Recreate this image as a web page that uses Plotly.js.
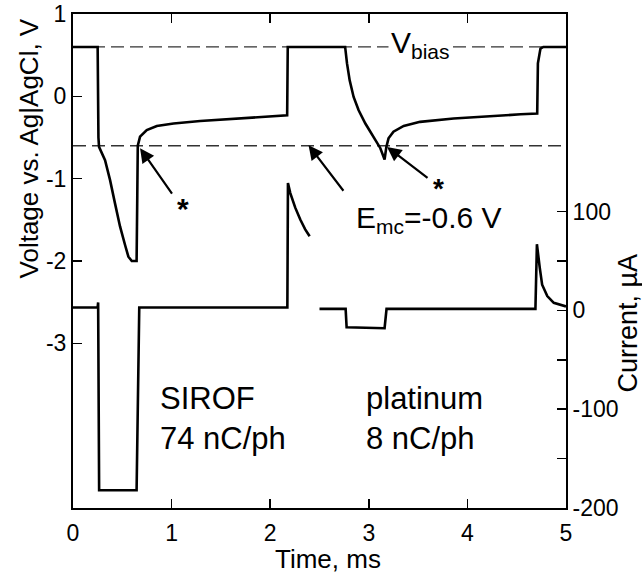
<!DOCTYPE html>
<html>
<head>
<meta charset="utf-8">
<script src="https://cdn.plot.ly/plotly-3.0.1.min.js"></script>
<style>html,body{margin:0;padding:0;background:#fff;}#chart{width:642px;height:574px;}</style>
</head>
<body>
<div id="chart"></div>
<script>
// Voltage trace (SIROF pulse, then platinum pulse), V vs Ag|AgCl
const timeV = [0, 0.25, 0.258, 0.264, 0.325, 0.376, 0.426, 0.477, 0.528, 0.562, 0.596, 0.645, 0.652, 0.657, 0.68, 0.748, 0.85, 1.02, 1.29, 1.63, 1.97, 2.172, 2.178, 2.76, 2.779, 2.806, 2.846, 2.897, 2.965, 3.05, 3.117, 3.16, 3.178, 3.20, 3.25, 3.354, 3.52, 3.86, 4.20, 4.54, 4.708, 4.715, 4.741, 4.77, 5];
const voltage = [0.6, 0.6, -0.5, -0.614, -0.776, -1.018, -1.30, -1.58, -1.806, -1.948, -2.0, -2.0, -1.2, -0.6, -0.49, -0.41, -0.36, -0.33, -0.30, -0.27, -0.24, -0.23, 0.6, 0.6, 0.4, 0.194, -0.008, -0.17, -0.33, -0.49, -0.63, -0.767, -0.614, -0.51, -0.43, -0.36, -0.31, -0.27, -0.24, -0.218, -0.21, 0.4, 0.58, 0.6, 0.6];
// Current trace, µA
const timeI = [0, 0.25, 0.255, 0.265, 0.645, 0.672, 2.174, 2.18, 2.203, 2.254, 2.305, 2.355, 2.40, 2.45, 2.50, 2.765, 2.775, 3.0, 3.16, 3.18, 4.69, 4.705, 4.72, 4.734, 4.758, 4.81, 4.876, 4.978, 5];
const current = [3, 3, 8, -182, -182, 3, 3, 129, 119, 104, 92, 82, 75, null, 1.5, 1.5, -17, -18, -18, 1.5, 1.5, 67, 52, 43, 26, 14.5, 7.7, 4.3, 4];
// Reference levels
const vBias = 0.6;
const eMc = -0.6;
// Tick labels
const xTicks = [0, 1, 2, 3, 4, 5];
const vTicks = [-3, -2, -1, 0, 1];
const vTickText = ['-3', '-2', '-1', '0', '1'];
const iTicks = [-200, -150, -100, -50, 0, 50, 100];
const iTickText = ['-200', '', '-100', '', '0', '', '100'];

const FONT = 'Liberation Sans, Arial, Helvetica, sans-serif';
const traces = [
  {x: timeV, y: voltage, type: 'scatter', mode: 'lines', line: {color: '#000', width: 2.6}, yaxis: 'y', hoverinfo: 'skip'},
  {x: timeI, y: current, type: 'scatter', mode: 'lines', line: {color: '#000', width: 2.6}, yaxis: 'y2', connectgaps: false, hoverinfo: 'skip'}
];
const dash = {color: '#333', width: 1.3, dash: '13px,6px'};
const layout = {
  width: 642, height: 574,
  margin: {l: 73, r: 76, t: 14, b: 66},
  paper_bgcolor: '#fff', plot_bgcolor: '#fff',
  showlegend: false,
  font: {family: FONT, color: '#000', size: 23},
  xaxis: {range: [0, 5], tickvals: xTicks, ticks: 'inside', ticklen: 9, tickwidth: 1.5, tickcolor: '#000',
          showline: true, linewidth: 2, linecolor: '#000', mirror: 'ticks', showgrid: false, zeroline: false,
          tickfont: {size: 23}, ticklabelstandoff: 3},
  yaxis: {range: [-5, 1], tickvals: vTicks, ticktext: vTickText, ticks: 'inside', ticklen: 9, tickwidth: 1.5, tickcolor: '#000',
          showline: true, linewidth: 2, linecolor: '#000', showgrid: false, zeroline: false, tickfont: {size: 23}},
  yaxis2: {range: [-200, 300], overlaying: 'y', side: 'right', tickvals: iTicks, ticktext: iTickText,
           ticks: 'inside', ticklen: 9, tickwidth: 1.5, tickcolor: '#000',
           showline: true, linewidth: 2, linecolor: '#000', showgrid: false, zeroline: false, tickfont: {size: 23}},
  shapes: [
    {type: 'line', xref: 'paper', x0: 0, x1: 1, yref: 'y', y0: vBias, y1: vBias, line: dash, layer: 'below'},
    {type: 'line', xref: 'paper', x0: 0, x1: 1, yref: 'y', y0: eMc, y1: eMc, line: dash, layer: 'below'}
  ],
  annotations: [
    {xref: 'paper', yref: 'paper', x: -0.0893, y: 0.7277, xanchor: 'center', yanchor: 'middle', text: 'Voltage vs. Ag|AgCl, V', textangle: -90, showarrow: false, font: {size: 26}},
    {xref: 'paper', yref: 'paper', x: 1.1264, y: 0.374, xanchor: 'center', yanchor: 'middle', text: 'Current, µA', textangle: -90, showarrow: false, font: {size: 27}},
    {xref: 'paper', yref: 'paper', x: 0.5176, y: -0.103, xanchor: 'center', yanchor: 'middle', text: 'Time, ms', showarrow: false, font: {size: 26}},
    {xref: 'x', yref: 'y', x: 3.52, y: 0.635, text: 'V<sub>bias</sub>', showarrow: false, bgcolor: '#fff', font: {size: 30}, borderpad: 2},
    {xref: 'x', yref: 'y', x: 2.85, y: -1.49, xanchor: 'left', text: 'E<sub>mc</sub>=-0.6 V', showarrow: false, font: {size: 30}},
    {xref: 'x', yref: 'y', x: 0.86, y: -3.91, xanchor: 'left', align: 'left', text: 'SIROF<br>74 nC/ph', showarrow: false, font: {size: 31}},
    {xref: 'x', yref: 'y', x: 2.947, y: -3.91, xanchor: 'left', align: 'left', text: 'platinum<br>8 nC/ph', showarrow: false, font: {size: 31}},
    {xref: 'x', yref: 'y', x: 0.68, y: -0.63, ax: 33, ay: 47, text: '', showarrow: true, arrowhead: 2, arrowsize: 1.3, arrowwidth: 2.2, arrowcolor: '#000', standoff: 0},
    {xref: 'x', yref: 'y', x: 2.389, y: -0.594, ax: 36, ay: 47, text: '', showarrow: true, arrowhead: 2, arrowsize: 1.3, arrowwidth: 2.2, arrowcolor: '#000', standoff: 0},
    {xref: 'x', yref: 'y', x: 3.185, y: -0.615, ax: 42, ay: 32, text: '', showarrow: true, arrowhead: 2, arrowsize: 1.3, arrowwidth: 2.2, arrowcolor: '#000', standoff: 0},
    {xref: 'x', yref: 'y', x: 1.116, y: -1.36, text: '<b>*</b>', showarrow: false, font: {size: 30}},
    {xref: 'x', yref: 'y', x: 3.708, y: -1.12, text: '<b>*</b>', showarrow: false, font: {size: 28}}
  ]
};
Plotly.newPlot('chart', traces, layout, {staticPlot: true, displayModeBar: false});
</script>
</body>
</html>
